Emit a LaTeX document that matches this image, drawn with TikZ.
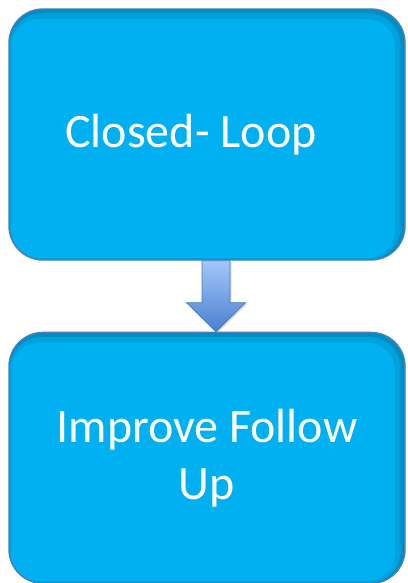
\documentclass[tikz,border=0pt]{standalone}
\usepackage{fontspec}
\setmainfont{Carlito}
\usetikzlibrary{positioning,calc,shadows}

\definecolor{boxblue}{HTML}{00B0F0}
\definecolor{edgeblue}{HTML}{4A7EBB}
\definecolor{arrowtop}{HTML}{A3C6FA}
\definecolor{arrowbot}{HTML}{4A80D0}

\tikzset{
  boxtext/.style={text=white, font=\fontsize{48}{57}\selectfont, align=center},
  stagebox/.style={draw=edgeblue, line width=1.4pt, fill=boxblue,
    rounded corners=34pt, minimum width=396pt, minimum height=251pt,
    inner sep=0pt, boxtext,
    path picture={
      \draw[black, opacity=.08, line width=12pt, rounded corners=34pt]
        ([shift={(-4pt,-4pt)}]path picture bounding box.south west) rectangle
        ([shift={(-4pt,-4pt)}]path picture bounding box.north east);
      \draw[black, opacity=.12, line width=5pt, rounded corners=34pt]
        ([shift={(-2pt,-2pt)}]path picture bounding box.south west) rectangle
        ([shift={(-2pt,-2pt)}]path picture bounding box.north east);
    }},
  blockarrow/.style={draw=edgeblue, line width=0.8pt, line join=miter,
    top color=arrowtop, bottom color=arrowbot,
    drop shadow={opacity=.25, shadow xshift=1.5pt, shadow yshift=-1.5pt}}
}

\begin{document}
\begin{tikzpicture}[x=1pt,y=1pt]
  \useasboundingbox (0,0) rectangle (407,-583);
  \node[stagebox, label={[boxtext, xshift=-16pt]center:Closed- Loop}] (closed) at (207,-134.5) {};
  \node[stagebox, below=71pt of closed] (followup) {Improve Follow\\Up};
  % block arrow between the two boxes
  \coordinate (atop) at ([xshift=9pt]closed.south);
  \coordinate (atip) at ([xshift=9pt]followup.north);
  \draw[blockarrow] ($(atop)+(-14,0)$) -- ($(atop)+(14,0)$) -- ($(atip)+(14,29)$)
    -- ($(atip)+(29.5,29)$) -- (atip) -- ($(atip)+(-29.5,29)$)
    -- ($(atip)+(-14,29)$) -- cycle;
\end{tikzpicture}
\end{document}
